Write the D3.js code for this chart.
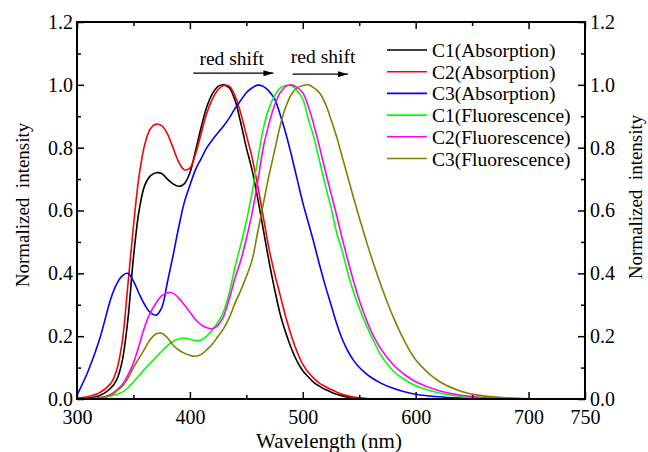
<!DOCTYPE html>
<html lang="en">
<head>
	<meta charset="UTF-8">
	<title>Absorption and fluorescence</title>
	<script type="text/javascript" src="https://d3js.org/d3.v7.min.js"></script>
	<style>
		body { margin: 0; background: #fff; }
		svg text { font-family: "Liberation Serif", "DejaVu Serif", "Times New Roman", Times, serif !important; fill: #000; }
	</style>
</head>
<body>
	<svg id="chart" width="648" height="452"></svg>

	<script>
		// wavelength grid (nm) shared by all curves
		var wavelengths = [300, 310, 320, 330, 335, 340, 345, 350, 355, 360, 365, 370, 375, 380, 385, 390, 395,
			400, 405, 410, 415, 420, 425, 430, 435, 440, 445, 450, 455, 460, 465, 470, 475, 480, 485, 490, 495,
			500, 505, 510, 515, 520, 525, 530, 535, 540, 545, 550, 555, 560, 570, 580, 590, 600, 620, 640, 660,
			680, 700, 750];

		var c1Abs = [0.0, 0.003, 0.01, 0.035, 0.06, 0.12, 0.25, 0.45, 0.60, 0.68, 0.71, 0.72, 0.718, 0.70, 0.685, 0.677, 0.685,
			0.72, 0.79, 0.865, 0.93, 0.972, 0.995, 1.0, 0.99, 0.95, 0.88, 0.80, 0.73, 0.64, 0.54, 0.44, 0.35, 0.27, 0.21, 0.16, 0.12,
			0.09, 0.07, 0.052, 0.04, 0.03, 0.022, 0.015, 0.01, 0.006, 0.004, 0.002, 0.001, 0, 0, 0, 0, 0, 0, 0, 0,
			0, 0, 0];
		var c2Abs = [0.003, 0.008, 0.02, 0.05, 0.09, 0.18, 0.36, 0.55, 0.71, 0.81, 0.86, 0.875, 0.87, 0.845, 0.80, 0.755, 0.73,
			0.735, 0.78, 0.845, 0.91, 0.955, 0.985, 0.998, 0.995, 0.965, 0.91, 0.84, 0.77, 0.68, 0.58, 0.48, 0.40, 0.33, 0.26, 0.2, 0.15,
			0.11, 0.085, 0.065, 0.05, 0.04, 0.03, 0.022, 0.015, 0.01, 0.006, 0.004, 0.002, 0.001, 0, 0, 0, 0, 0, 0, 0,
			0, 0, 0];
		var c3Abs = [0.012, 0.09, 0.19, 0.32, 0.365, 0.392, 0.40, 0.375, 0.335, 0.30, 0.275, 0.267, 0.29, 0.37, 0.455, 0.545, 0.625,
			0.68, 0.73, 0.765, 0.80, 0.825, 0.848, 0.87, 0.895, 0.925, 0.95, 0.975, 0.99, 0.999, 0.995, 0.98, 0.955, 0.905, 0.845, 0.775, 0.70,
			0.625, 0.56, 0.495, 0.425, 0.36, 0.30, 0.24, 0.19, 0.152, 0.123, 0.101, 0.084, 0.07, 0.049, 0.034, 0.023, 0.015, 0.007, 0.003, 0.001,
			0, 0, 0];
		var c1Fl = [0.0, 0.0, 0.003, 0.01, 0.015, 0.022, 0.035, 0.055, 0.075, 0.095, 0.115, 0.133, 0.152, 0.17, 0.183, 0.191, 0.194,
			0.19, 0.186, 0.188, 0.2, 0.22, 0.245, 0.28, 0.34, 0.42, 0.49, 0.565, 0.655, 0.76, 0.86, 0.925, 0.965, 0.99, 0.998, 0.997, 0.982,
			0.955, 0.89, 0.83, 0.755, 0.68, 0.61, 0.53, 0.47, 0.40, 0.34, 0.29, 0.245, 0.205, 0.135, 0.09, 0.062, 0.042, 0.02, 0.008, 0.003,
			0.001, 0, 0];
		var c2Fl = [0.0, 0.0, 0.003, 0.015, 0.028, 0.045, 0.075, 0.115, 0.17, 0.23, 0.275, 0.305, 0.328, 0.338, 0.337, 0.322, 0.30,
			0.277, 0.253, 0.236, 0.227, 0.224, 0.235, 0.265, 0.32, 0.385, 0.44, 0.51, 0.59, 0.69, 0.80, 0.875, 0.935, 0.975, 0.995, 1.0, 0.992,
			0.975, 0.93, 0.87, 0.80, 0.725, 0.655, 0.585, 0.51, 0.44, 0.375, 0.315, 0.265, 0.22, 0.155, 0.11, 0.078, 0.055, 0.027, 0.012, 0.005,
			0.002, 0, 0];
		var c3Fl = [0.0, 0.0, 0.003, 0.012, 0.025, 0.04, 0.065, 0.10, 0.13, 0.16, 0.19, 0.207, 0.209, 0.195, 0.172, 0.156, 0.146,
			0.139, 0.136, 0.142, 0.157, 0.175, 0.2, 0.225, 0.26, 0.305, 0.345, 0.39, 0.44, 0.53, 0.62, 0.71, 0.79, 0.87, 0.93, 0.97, 0.99,
			0.998, 1.0, 0.99, 0.973, 0.94, 0.89, 0.835, 0.77, 0.705, 0.64, 0.578, 0.518, 0.46, 0.355, 0.262, 0.185, 0.125, 0.058, 0.025, 0.01,
			0.004, 0.001, 0];

		var seriesNames = ["C1(Absorption)", "C2(Absorption)", "C3(Absorption)",
			"C1(Fluorescence)", "C2(Fluorescence)", "C3(Fluorescence)"];
		var seriesValues = [c1Abs, c2Abs, c3Abs, c1Fl, c2Fl, c3Fl];
		var seriesColours = ["#000000", "#ff0000", "#0000ff", "#00ff00", "#ff00ff", "#808000"];

		var xMajorTicks = [300, 400, 500, 600, 700, 750];
		var xMinorTicks = [350, 450, 550, 650];
		var yMajorTicks = [0, 0.2, 0.4, 0.6, 0.8, 1.0, 1.2];
		var yMinorTicks = [0.1, 0.3, 0.5, 0.7, 0.9, 1.1];

		// "red shift" notes: arrow from x0 to x1 (nm) at height y, label centred at tx/ty
		var shiftNotes = [
			{label: "red shift", x0: 403, x1: 474, y: 1.037, tx: 437, ty: 1.062},
			{label: "red shift", x0: 491, x1: 540, y: 1.034, tx: 518, ty: 1.068}
		];

		var width = 648, height = 452;
		var margin = {top: 22, right: 63, bottom: 53, left: 77};
		var svg = d3.select("#chart");

		var x = d3.scaleLinear().domain([300, 750]).range([margin.left, width - margin.right]);
		var y = d3.scaleLinear().domain([0, 1.2]).range([height - margin.bottom, margin.top]);

		var defs = svg.append("defs");
		defs.append("clipPath").attr("id", "plotClip")
			.append("rect")
			.attr("x", margin.left).attr("y", margin.top)
			.attr("width", x(750) - x(300)).attr("height", y(0) - y(1.2));

		defs.append("marker")
			.attr("id", "arrowHead")
			.attr("viewBox", "0 0 10 6")
			.attr("refX", 10).attr("refY", 3)
			.attr("markerWidth", 10).attr("markerHeight", 6)
			.attr("markerUnits", "userSpaceOnUse")
			.attr("orient", "auto")
			.append("path").attr("d", "M0,0 L10,3 L0,6 Z").attr("fill", "#000");

		// curves
		var line = d3.line()
			.x(function(d, i) { return x(wavelengths[i]); })
			.y(function(d) { return y(d); })
			.curve(d3.curveCatmullRom.alpha(0.5));

		svg.append("g").attr("clip-path", "url(#plotClip)")
			.selectAll("path").data(seriesValues).enter().append("path")
			.attr("d", function(d) { return line(d); })
			.attr("fill", "none")
			.attr("stroke", function(d, i) { return seriesColours[i]; })
			.attr("stroke-width", 1.6);

		// axes, ticks inward on all four sides
		svg.append("g").attr("transform", "translate(0," + y(0) + ")")
			.call(d3.axisBottom(x).tickValues(xMajorTicks).tickSize(-7).tickPadding(11).tickFormat(d3.format("d")));
		svg.append("g").attr("transform", "translate(0," + y(0) + ")")
			.call(d3.axisBottom(x).tickValues(xMinorTicks).tickSize(-4).tickFormat(""));
		svg.append("g").attr("transform", "translate(0," + y(1.2) + ")")
			.call(d3.axisTop(x).tickValues(xMajorTicks).tickSize(-7).tickFormat(""));
		svg.append("g").attr("transform", "translate(0," + y(1.2) + ")")
			.call(d3.axisTop(x).tickValues(xMinorTicks).tickSize(-4).tickFormat(""));

		svg.append("g").attr("transform", "translate(" + x(300) + ",0)")
			.call(d3.axisLeft(y).tickValues(yMajorTicks).tickSize(-7).tickPadding(4).tickFormat(d3.format(".1f")));
		svg.append("g").attr("transform", "translate(" + x(300) + ",0)")
			.call(d3.axisLeft(y).tickValues(yMinorTicks).tickSize(-4).tickFormat(""));
		svg.append("g").attr("transform", "translate(" + x(750) + ",0)")
			.call(d3.axisRight(y).tickValues(yMajorTicks).tickSize(-7).tickPadding(5).tickFormat(d3.format(".1f")));
		svg.append("g").attr("transform", "translate(" + x(750) + ",0)")
			.call(d3.axisRight(y).tickValues(yMinorTicks).tickSize(-4).tickFormat(""));

		svg.selectAll(".domain").remove();
		svg.selectAll("g").attr("font-family", null);
		svg.selectAll(".tick line").attr("stroke", "#000").attr("stroke-width", 1.5);
		svg.selectAll(".tick text").style("font-size", "20px").attr("fill", "#000");

		svg.append("rect")
			.attr("x", x(300)).attr("y", y(1.2))
			.attr("width", x(750) - x(300)).attr("height", y(0) - y(1.2))
			.attr("fill", "none").attr("stroke", "#000").attr("stroke-width", 2);

		// axis titles
		svg.append("text")
			.attr("x", 329).attr("y", 448)
			.attr("text-anchor", "middle").style("font-size", "21px")
			.text("Wavelength (nm)");
		svg.append("text")
			.attr("transform", "translate(29,205) rotate(-90)")
			.attr("text-anchor", "middle").style("font-size", "19px").style("white-space", "pre")
			.text("Normalized  intensity");
		svg.append("text")
			.attr("transform", "translate(642,197) rotate(-90)")
			.attr("text-anchor", "middle").style("font-size", "19px").style("white-space", "pre")
			.text("Normalized  intensity");

		// red shift arrows
		var notes = svg.append("g");
		notes.selectAll("line").data(shiftNotes).enter().append("line")
			.attr("x1", function(d) { return x(d.x0); })
			.attr("x2", function(d) { return x(d.x1); })
			.attr("y1", function(d) { return y(d.y); })
			.attr("y2", function(d) { return y(d.y); })
			.attr("stroke", "#000").attr("stroke-width", 1.3)
			.attr("marker-end", "url(#arrowHead)");
		notes.selectAll("text").data(shiftNotes).enter().append("text")
			.attr("x", function(d) { return x(d.tx); })
			.attr("y", function(d) { return y(d.ty); })
			.attr("text-anchor", "middle").style("font-size", "19.5px")
			.text(function(d) { return d.label; });

		// legend
		var legend = svg.append("g").attr("transform", "translate(387,50)");
		var rows = legend.selectAll("g").data(seriesNames).enter().append("g")
			.attr("transform", function(d, i) { return "translate(0," + (i * 21.7) + ")"; });
		rows.append("line")
			.attr("x1", 0).attr("x2", 40).attr("y1", 0).attr("y2", 0)
			.attr("stroke", function(d, i) { return seriesColours[i]; })
			.attr("stroke-width", 1.6);
		rows.append("text")
			.attr("x", 45).attr("y", 7)
			.style("font-size", "19.5px")
			.text(function(d) { return d; });
	</script>
</body>
</html>
